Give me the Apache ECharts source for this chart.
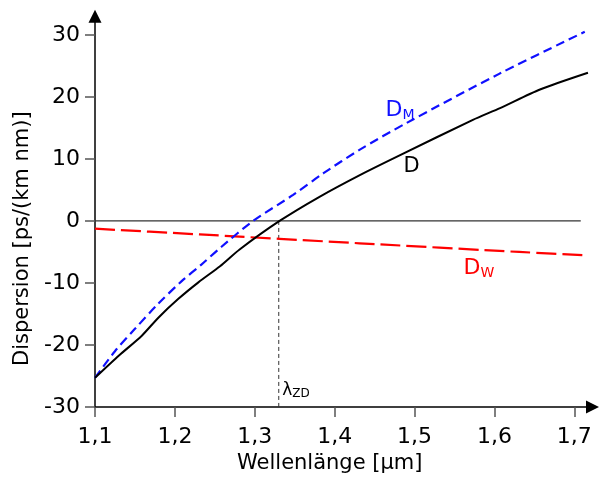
<!DOCTYPE html>
<html>
<head>
<meta charset="utf-8">
<script src="https://cdn.jsdelivr.net/npm/echarts@6/dist/echarts.min.js"></script>
<style>
  html, body { margin: 0; padding: 0; background: #fff; }
  #chart { width: 599px; height: 479px; }
</style>
</head>
<body>
<div id="chart"></div>
<script>
// Wavelength (µm) and dispersion (ps/(km nm)) samples for each curve
const wavelengthD = [1.10, 1.13, 1.1586, 1.1793, 1.204, 1.2294, 1.2565, 1.281, 1.331, 1.381, 1.4315, 1.48, 1.573, 1.607, 1.657, 1.717];
const dispersionD = [-25.3, -21.7, -18.5, -15.6, -12.6, -9.9, -7.3, -4.6, 0.0, 3.9, 7.4, 10.5, 16.3, 18.2, 21.2, 23.9];

const wavelengthDM = [1.10, 1.125, 1.15, 1.178, 1.2085, 1.2335, 1.258, 1.298, 1.348, 1.386, 1.4315, 1.49, 1.607, 1.713];
const dispersionDM = [-25.3, -21.0, -17.4, -13.5, -9.7, -7.0, -4.2, 0.0, 4.2, 7.7, 11.5, 15.8, 23.8, 30.5];

const wavelengthDW = [1.10, 1.231, 1.431, 1.631, 1.717];
const dispersionDW = [-1.25, -2.17, -3.6, -5.0, -5.55];

// Zero-dispersion wavelength
const lambdaZD = 1.33;

// Tick values
const xTicks = [1.1, 1.2, 1.3, 1.4, 1.5, 1.6, 1.7];
const yTicks = [-30, -20, -10, 0, 10, 20, 30];

// Reference lines
const zeroLineX = [1.10, 1.708];
const zeroLineY = [0, 0];
const zdLineY = [0, -30];

const font = 'DejaVu Sans';

function pairs(xs, ys) {
  return xs.map((x, i) => [x, ys[i]]);
}

// Invisible point carrying a curve label at a data position
function labelSeries(pos, text, rich) {
  return {
    type: 'scatter',
    data: [pos],
    symbolSize: 1,
    itemStyle: { color: 'transparent', opacity: 1 },
    silent: true,
    z: 5,
    label: {
      show: true,
      position: 'right',
      distance: 0,
      align: 'left',
      verticalAlign: 'middle',
      opacity: 1,
      textBorderWidth: 0,
      formatter: text,
      rich: rich
    }
  };
}

const chart = echarts.init(document.getElementById('chart'), null, { renderer: 'canvas' });

chart.setOption({
  animation: false,
  backgroundColor: '#ffffff',
  textStyle: { fontFamily: font },
  grid: { left: 95, right: 6.5, top: 16.3, bottom: 70.5, containLabel: false },
  xAxis: {
    type: 'value',
    min: 1.1,
    max: 1.7227,
    name: 'Wellenlänge [µm]',
    nameLocation: 'middle',
    nameGap: 46,
    nameTextStyle: { fontFamily: font, fontSize: 21, color: '#000', padding: [0, 28, 0, 0] },
    axisLine: {
      onZero: false,
      lineStyle: { color: '#000', width: 1.5 },
      symbol: ['none', 'triangle'],
      symbolSize: [13, 13]
    },
    axisTick: {
      show: true, inside: false, length: 10,
      customValues: xTicks,
      lineStyle: { color: '#555', width: 1.5 }
    },
    axisLabel: {
      customValues: xTicks,
      margin: 19,
      fontFamily: font, fontSize: 22, color: '#000',
      formatter: v => v.toFixed(1).replace('.', ',')
    },
    splitLine: { show: false }
  },
  yAxis: {
    type: 'value',
    min: -30,
    max: 33,
    name: 'Dispersion [ps/(km nm)]',
    nameLocation: 'middle',
    nameGap: 62,
    nameTextStyle: { fontFamily: font, fontSize: 21, color: '#000', padding: [0, 54, 0, 0] },
    axisLine: {
      onZero: false,
      lineStyle: { color: '#000', width: 1.5 },
      symbol: ['none', 'triangle'],
      symbolSize: [13, 13]
    },
    axisTick: {
      show: true, inside: false, length: 10,
      customValues: yTicks,
      lineStyle: { color: '#555', width: 1.5 }
    },
    axisLabel: {
      customValues: yTicks,
      margin: 15,
      fontFamily: font, fontSize: 22, color: '#000',
      formatter: v => String(v)
    },
    splitLine: { show: false }
  },
  series: [
    {
      name: 'zero',
      type: 'line',
      data: pairs(zeroLineX, zeroLineY),
      symbol: 'none',
      silent: true,
      lineStyle: { color: '#333', width: 1.2 },
      z: 1
    },
    {
      name: 'lambdaZD',
      type: 'line',
      data: zdLineY.map(y => [lambdaZD, y]),
      symbol: 'none',
      silent: true,
      lineStyle: { color: '#333', width: 1, type: [4, 3] },
      z: 1
    },
    {
      name: 'DW',
      type: 'line',
      data: pairs(wavelengthDW, dispersionDW),
      symbol: 'none',
      smooth: 0.2,
      lineStyle: { color: '#ff0000', width: 2.2, type: [20, 6] },
      z: 2
    },
    {
      name: 'DM',
      type: 'line',
      data: pairs(wavelengthDM, dispersionDM),
      symbol: 'none',
      smooth: 0.3,
      lineStyle: { color: '#1010ff', width: 2.2, type: [9, 5] },
      z: 3
    },
    {
      name: 'D',
      type: 'line',
      data: pairs(wavelengthD, dispersionD),
      symbol: 'none',
      smooth: 0.25,
      lineStyle: { color: '#000', width: 2 },
      z: 4
    },
    labelSeries([1.463, 17.8], '{a|D}{b|M}', {
      a: { fontFamily: font, fontSize: 22, lineHeight: 24, color: '#1010ff' },
      b: { fontFamily: font, fontSize: 14, lineHeight: 15, verticalAlign: 'bottom', color: '#1010ff' }
    }),
    labelSeries([1.4855, 8.7], '{a|D}', {
      a: { fontFamily: font, fontSize: 21, lineHeight: 24, color: '#000' }
    }),
    labelSeries([1.5606, -7.6], '{a|D}{b|W}', {
      a: { fontFamily: font, fontSize: 22, lineHeight: 24, color: '#ff0000' },
      b: { fontFamily: font, fontSize: 14, lineHeight: 17, verticalAlign: 'bottom', color: '#ff0000' }
    }),
    labelSeries([1.3337, -27.3], '{a|λ}{b|ZD}', {
      a: { fontFamily: font, fontSize: 17, lineHeight: 20, color: '#000' },
      b: { fontFamily: font, fontSize: 12, lineHeight: 10, verticalAlign: 'bottom', color: '#000' }
    })
  ]
});
</script>
</body>
</html>
